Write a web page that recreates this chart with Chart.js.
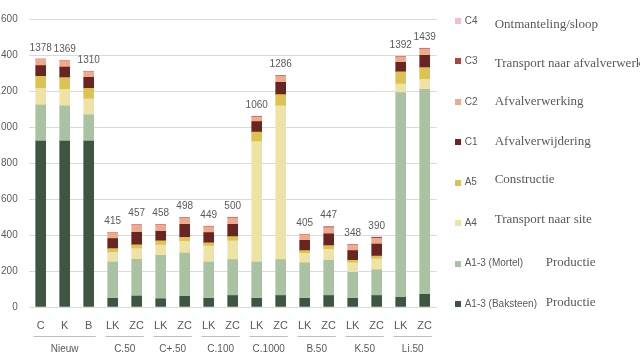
<!DOCTYPE html>
<html><head><meta charset="utf-8">
<script src="https://cdn.jsdelivr.net/npm/chart.js@4"></script>
<style>html,body{margin:0;padding:0;background:#fff;overflow:hidden}#wrap{position:relative;width:640px;height:360px}</style>
</head><body><div id="wrap"><canvas id="c" width="640" height="360"></canvas></div>
<script>
const categories = ['C','K','B','LK','ZC','LK','ZC','LK','ZC','LK','ZC','LK','ZC','LK','ZC','LK','ZC'];
const groupNames = ['Nieuw','C.50','C+.50','C.100','C.1000','B.50','K.50','Li.50'];
const groupSizes = [3,2,2,2,2,2,2,2];
const yTicks = [0,200,400,600,800,1000,1200,1400,1600];
const baksteen = [922,922,922,48,61,46,59,48,63,48,63,48,63,48,63,54,71];
const mortel   = [200,196,145,202,204,241,241,202,200,202,200,198,196,145,143,1137,1138];
const a4       = [93,91,89,54,59,57,65,89,105,669,854,52,61,53,62,48,56];
const a5       = [67,65,59,20,22,23,22,18,23,53,63,15,21,13,15,68,65];
const c1       = [59,59,61,56,69,53,72,56,68,58,68,57,65,54,67,52,68];
const c2       = [35,34,32,33,39,34,34,32,35,27,35,32,35,30,32,28,35];
const c3       = [1,1,1,1,2,2,3,2,3,2,2,2,4,3,5,3,3];
const c4       = [1,1,1,1,1,2,2,2,3,1,1,1,2,2,3,2,3];
const seriesNames = ['A1-3 (Baksteen)','A1-3 (Mortel)','A4','A5','C1','C2','C3','C4'];
const descriptions = ['Productie','Productie','Transport naar site','Constructie','Afvalverwijdering','Afvalverwerking','Transport naar afvalverwerking','Ontmanteling/sloop'];
const seriesData = [baksteen, mortel, a4, a5, c1, c2, c3, c4];
const colors = ['#3e5641','#a9c3a2','#efe2a5','#dcc34f','#6a2422','#eeaa8a','#b1443a','#f2bcd6'];

// styling offsets for legend descriptions (C4 ... Baksteen order, top to bottom)
const descDx = [58,58,58,58,58,58,109,109];
const descDy = [4,2,0,-1,-3,-4,-1,-1];

const TXT = '#595959';
const SANS = '"Liberation Sans", Arial, sans-serif';
const SERIF = '"Liberation Serif", "Times New Roman", serif';

const overlay = {
  id: 'overlay',
  afterDatasetsDraw(chart) {
    const {ctx, chartArea: a, scales: {x, y}} = chart;
    ctx.save();
    // totals
    ctx.font = '10px ' + SANS; ctx.fillStyle = TXT; ctx.textAlign = 'center'; ctx.textBaseline = 'middle';
    categories.forEach((c, i) => {
      const total = chart.data.datasets.reduce((s, d) => s + d.data[i], 0);
      ctx.fillText(String(total), x.getPixelForValue(i), y.getPixelForValue(total) - 11);
    });
    // group lines + labels
    const half = (a.right - a.left) / categories.length / 2;
    let idx = 0;
    groupNames.forEach((g, k) => {
      const first = idx, last = idx + groupSizes[k] - 1; idx += groupSizes[k];
      const pf = x.getPixelForValue(first), pl = x.getPixelForValue(last);
      const l = pf - half + 5, r = pl + half - 5;
      ctx.strokeStyle = '#bfbfbf'; ctx.lineWidth = 1;
      ctx.beginPath(); ctx.moveTo(l, Math.round(a.bottom + 29) + 0.5); ctx.lineTo(r, Math.round(a.bottom + 29) + 0.5); ctx.stroke();
      ctx.font = '10px ' + SANS; ctx.fillStyle = TXT;
      ctx.fillText(g, (pf + pl) / 2, a.bottom + 42);
    });
    // legend (reversed)
    const n = seriesNames.length;
    const step = (a.bottom - a.top - 5) / (n - 1);
    for (let j = 0; j < n; j++) {
      const si = n - 1 - j;
      const cy = a.top + 2 + j * step;
      ctx.fillStyle = colors[si];
      ctx.fillRect(Math.round(a.right + 18), Math.round(cy - 3), 6, 6);
      ctx.font = '10px ' + SANS; ctx.fillStyle = TXT; ctx.textAlign = 'left'; ctx.textBaseline = 'middle';
      ctx.fillText(seriesNames[si], a.right + 28, cy);
      ctx.font = '13px ' + SERIF; ctx.fillStyle = TXT;
      ctx.fillText(descriptions[si], a.right + descDx[j], cy + descDy[j]);
    }
    ctx.restore();
  }
};

new Chart(document.getElementById('c'), {
  type: 'bar',
  data: {
    labels: categories,
    datasets: seriesData.map((d, i) => ({
      label: seriesNames[i], data: d, backgroundColor: colors[i],
      borderWidth: 0, barThickness: 10, stack: 's'
    }))
  },
  options: {
    responsive: false, animation: false,
    layout: {padding: {top: 19, right: 203.3, left: 0, bottom: 0}},
    plugins: {legend: {display: false}, tooltip: {enabled: false}},
    scales: {
      x: {
        stacked: true,
        grid: {display: false, drawTicks: false},
        border: {display: false},
        ticks: {color: TXT, font: {size: 11, family: SANS}, padding: 12, maxRotation: 0, autoSkip: false},
        afterFit: s => { s.height = 53; }
      },
      y: {
        stacked: true, min: 0, max: 1600,
        afterBuildTicks: s => { s.ticks = yTicks.map(v => ({value: v})); },
        grid: {color: '#d9d9d9', drawTicks: false, lineWidth: 1},
        border: {display: false},
        ticks: {color: TXT, font: {size: 10, family: SANS}, padding: 11},
        afterFit: s => { s.width = 28.7; }
      }
    }
  },
  plugins: [overlay]
});
</script></body></html>
